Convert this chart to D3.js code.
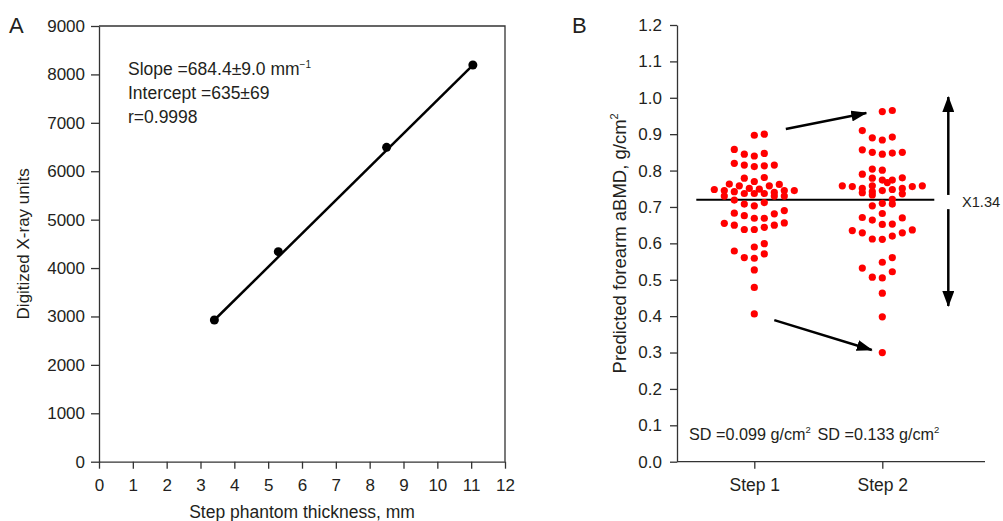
<!DOCTYPE html>
<html>
<head>
<meta charset="utf-8">
<script src="https://cdn.jsdelivr.net/npm/d3@7"></script>
<style>
  html, body { margin: 0; padding: 0; background: #fff; }
  svg { display: block; font-family: "Liberation Sans", Arial, Helvetica, sans-serif; }
</style>
</head>
<body>
<svg id="chart" width="1003" height="521"></svg>
<script>
// ---- Panel A data: step phantom calibration ----
const thicknessMm = [3.41, 5.30, 8.50, 11.05];
const xrayUnits = [2927, 4338, 6494, 8194];
const xTicksA = d3.range(0, 13, 1);
const yTicksA = d3.range(0, 10000, 1000);
const fitText = ["Slope =684.4\u00b19.0 mm", "Intercept =635\u00b169", "r=0.9998"];

// ---- Panel B data: predicted forearm aBMD, beeswarm [value, column] ----
const steps = ["Step 1", "Step 2"];
const step1Dots = [
  [0.897, 0], [0.900, 1],
  [0.858, -2],
  [0.845, -1], [0.840, 0], [0.847, 1],
  [0.820, -2], [0.815, -1], [0.811, 0], [0.813, 1], [0.815, 2],
  [0.779, -1], [0.770, 0], [0.781, 1],
  [0.763, -2.5], [0.758, -1.5], [0.751, -0.5], [0.749, 0.5], [0.758, 1.5], [0.762, 2.5],
  [0.748, -4], [0.745, -3], [0.742, -2], [0.737, -1], [0.737, 0], [0.737, 1], [0.740, 2], [0.745, 3], [0.745, 4],
  [0.730, -3], [0.730, 2], [0.730, 3],
  [0.719, -2],
  [0.708, -1], [0.703, 0], [0.712, 1],
  [0.683, -2], [0.676, -1], [0.669, 0], [0.669, 1], [0.681, 2], [0.690, 3],
  [0.655, -3], [0.650, -2], [0.638, -1], [0.638, 0], [0.644, 1], [0.650, 2], [0.656, 3],
  [0.590, 0], [0.599, 1],
  [0.579, -2],
  [0.561, -1], [0.559, 0], [0.571, 1],
  [0.527, 0],
  [0.479, 0],
  [0.406, 0]
];
const step2Dots = [
  [0.962, 0], [0.965, 1],
  [0.910, -2],
  [0.890, -1], [0.884, 0], [0.892, 1],
  [0.857, -2], [0.850, -1], [0.845, 0], [0.848, 1], [0.850, 2],
  [0.804, -1], [0.801, 0],
  [0.790, -2],
  [0.779, -1], [0.774, 0], [0.774, 1], [0.780, 2],
  [0.767, 0.5],
  [0.758, -4], [0.756, -3], [0.751, -2], [0.758, -1], [0.745, 0], [0.748, 1], [0.751, 2], [0.756, 3], [0.758, 4],
  [0.739, -2], [0.742, -1], [0.736, 2], [0.733, -1],
  [0.721, 1], [0.710, 0], [0.708, 1],
  [0.703, -1],
  [0.682, 0],
  [0.671, -2], [0.664, -1], [0.652, 0], [0.653, 1], [0.670, 2],
  [0.635, -3], [0.629, -2], [0.612, -1], [0.611, 0], [0.620, 1], [0.629, 2], [0.637, 3],
  [0.561, 1], [0.548, 0],
  [0.532, -2], [0.522, 1],
  [0.507, -1], [0.505, 0],
  [0.463, 0],
  [0.398, 0],
  [0.300, 0]
];
const meanValue = 0.72;
const sdText = ["SD =0.099 g/cm", "SD =0.133 g/cm"];
const yTicksB = d3.range(0, 1.21, 0.1);
const ratioText = "X1.34";

const svg = d3.select("#chart");
const ink = "#231f20";
const tickFont = "17px";

// arrow heads
const defs = svg.append("defs");
function head(id, len, wid) {
  defs.append("marker")
    .attr("id", id)
    .attr("markerUnits", "userSpaceOnUse")
    .attr("viewBox", `0 ${-wid / 2} ${len} ${wid}`)
    .attr("refX", len - 1).attr("refY", 0)
    .attr("markerWidth", len).attr("markerHeight", wid)
    .attr("orient", "auto-start-reverse")
    .append("path")
    .attr("d", `M0,${-wid / 2}L${len},0L0,${wid / 2}Z`)
    .attr("fill", "#000");
}
head("arr", 16, 11);
head("arr2", 16, 12);

// ================= Panel A =================
const xA = d3.scaleLinear().domain([0, 12]).range([99, 505]);
const yA = d3.scaleLinear().domain([0, 9000]).range([461.7, 26]);
const gA = svg.append("g");

gA.append("g")
  .attr("transform", `translate(0,${yA(0)})`)
  .call(d3.axisBottom(xA).tickValues(xTicksA).tickFormat(d3.format("d")).tickSize(7).tickSizeOuter(0).tickPadding(10))
  .call(g => g.selectAll("text").style("font-size", tickFont).attr("fill", ink));
gA.append("g")
  .attr("transform", `translate(${xA(0)},0)`)
  .call(d3.axisLeft(yA).tickValues(yTicksA).tickFormat(d3.format("d")).tickSize(8).tickSizeOuter(0).tickPadding(6))
  .call(g => g.selectAll("text").style("font-size", tickFont).attr("fill", ink));
gA.selectAll(".domain, .tick line").attr("stroke", "#333").attr("stroke-width", 1.3);

// box top / right
gA.append("path")
  .attr("d", `M${xA(0)},${yA(9000)}H${xA(12)}V${yA(0)}`)
  .attr("fill", "none").attr("stroke", "#333").attr("stroke-width", 1.3);

// fit line and points
gA.append("line")
  .attr("x1", xA(thicknessMm[0])).attr("y1", yA(xrayUnits[0]))
  .attr("x2", xA(thicknessMm[thicknessMm.length - 1])).attr("y2", yA(xrayUnits[xrayUnits.length - 1]))
  .attr("stroke", "#000").attr("stroke-width", 2.5);
gA.selectAll("circle.pt")
  .data(thicknessMm)
  .join("circle")
  .attr("class", "pt")
  .attr("cx", d => xA(d))
  .attr("cy", (d, i) => yA(xrayUnits[i]))
  .attr("r", 4.5)
  .attr("fill", "#000");

// fit text
const fit = gA.append("text").attr("fill", ink).style("font-size", "17.5px");
fitText.forEach((t, i) => {
  fit.append("tspan").attr("x", 128).attr("y", 75 + i * 24).text(t);
  if (i === 0) {
    fit.append("tspan").attr("dy", -7).style("font-size", "10px").text("\u22121");
  }
});

gA.append("text")
  .attr("x", xA(6)).attr("y", 518)
  .attr("text-anchor", "middle").attr("fill", ink).style("font-size", "17.5px")
  .text("Step phantom thickness, mm");
gA.append("text")
  .attr("transform", `translate(29,${(yA(0) + yA(9000)) / 2}) rotate(-90)`)
  .attr("text-anchor", "middle").attr("fill", ink).style("font-size", "17px")
  .text("Digitized X-ray units");
gA.append("text")
  .attr("x", 9).attr("y", 33).attr("fill", ink).style("font-size", "22px")
  .text("A");

// ================= Panel B =================
const xB = d3.scalePoint().domain(steps).range([754.3, 882.3]);
const yB = d3.scaleLinear().domain([0, 1.2]).range([461.7, 25]);
const colB = d3.scaleLinear().domain([0, 1]).range([0, 10]);
const gB = svg.append("g");

gB.append("g")
  .attr("transform", `translate(0,${yB(0)})`)
  .call(d3.axisBottom(xB).tickSize(7).tickSizeOuter(0).tickPadding(10))
  .call(g => g.select(".domain").remove())
  .call(g => g.selectAll("text").style("font-size", "17.5px").attr("fill", ink));
gB.append("line")
  .attr("x1", 677).attr("x2", 985).attr("y1", yB(0)).attr("y2", yB(0))
  .attr("stroke", "#333").attr("stroke-width", 1.3);
gB.append("g")
  .attr("transform", `translate(677,0)`)
  .call(d3.axisLeft(yB).tickValues(yTicksB).tickFormat(d3.format(".1f")).tickSize(7).tickSizeOuter(0).tickPadding(8))
  .call(g => g.selectAll("text").style("font-size", tickFont).attr("fill", ink));
gB.selectAll(".domain, .tick line").attr("stroke", "#333").attr("stroke-width", 1.3);

// mean line
gB.append("line")
  .attr("x1", xB("Step 1") - 58).attr("x2", xB("Step 2") + 52)
  .attr("y1", yB(meanValue)).attr("y2", yB(meanValue))
  .attr("stroke", "#000").attr("stroke-width", 2);

// dots
[step1Dots, step2Dots].forEach((dots, k) => {
  gB.append("g").selectAll("circle")
    .data(dots)
    .join("circle")
    .attr("cx", d => xB(steps[k]) + colB(d[1]))
    .attr("cy", d => yB(d[0]))
    .attr("r", 3.6)
    .attr("fill", "#ff0000");
});

// trend arrows
function arrow(x1, v1, x2, v2, id) {
  gB.append("line")
    .attr("x1", x1).attr("y1", yB(v1)).attr("x2", x2).attr("y2", yB(v2))
    .attr("stroke", "#000").attr("stroke-width", 2.5)
    .attr("marker-end", `url(#${id})`);
}
arrow(xB("Step 1") + 31.5, 0.914, xB("Step 2") - 16, 0.958, "arr");
arrow(xB("Step 1") + 20, 0.389, xB("Step 2") - 10.5, 0.307, "arr");

// spread double arrow
const ax = 948.3;
gB.append("line")
  .attr("x1", ax).attr("x2", ax).attr("y1", yB(0.733)).attr("y2", yB(1.002))
  .attr("stroke", "#000").attr("stroke-width", 2.5).attr("marker-end", "url(#arr2)");
gB.append("line")
  .attr("x1", ax).attr("x2", ax).attr("y1", yB(0.694)).attr("y2", yB(0.428))
  .attr("stroke", "#000").attr("stroke-width", 2.5).attr("marker-end", "url(#arr2)");
gB.append("text")
  .attr("x", 962).attr("y", yB(0.713)).attr("dy", "0.35em")
  .attr("fill", ink).style("font-size", "14.6px")
  .text(ratioText);

// SD labels
sdText.forEach((t, i) => {
  const tx = gB.append("text")
    .attr("x", i === 0 ? 689 : 817.5).attr("y", 440)
    .attr("fill", ink).style("font-size", "16.2px");
  tx.append("tspan").text(t);
  tx.append("tspan").attr("dy", -7).style("font-size", "9.5px").text("2");
});

// y label
const yl = gB.append("text")
  .attr("transform", `translate(626,${(yB(0) + yB(1.2)) / 2}) rotate(-90)`)
  .attr("text-anchor", "middle").attr("fill", ink).style("font-size", "18.5px");
yl.append("tspan").text("Predicted forearm aBMD, g/cm");
yl.append("tspan").attr("dy", -8).style("font-size", "11px").text("2");

gB.append("text")
  .attr("x", 572).attr("y", 33).attr("fill", ink).style("font-size", "22px")
  .text("B");
</script>
</body>
</html>
